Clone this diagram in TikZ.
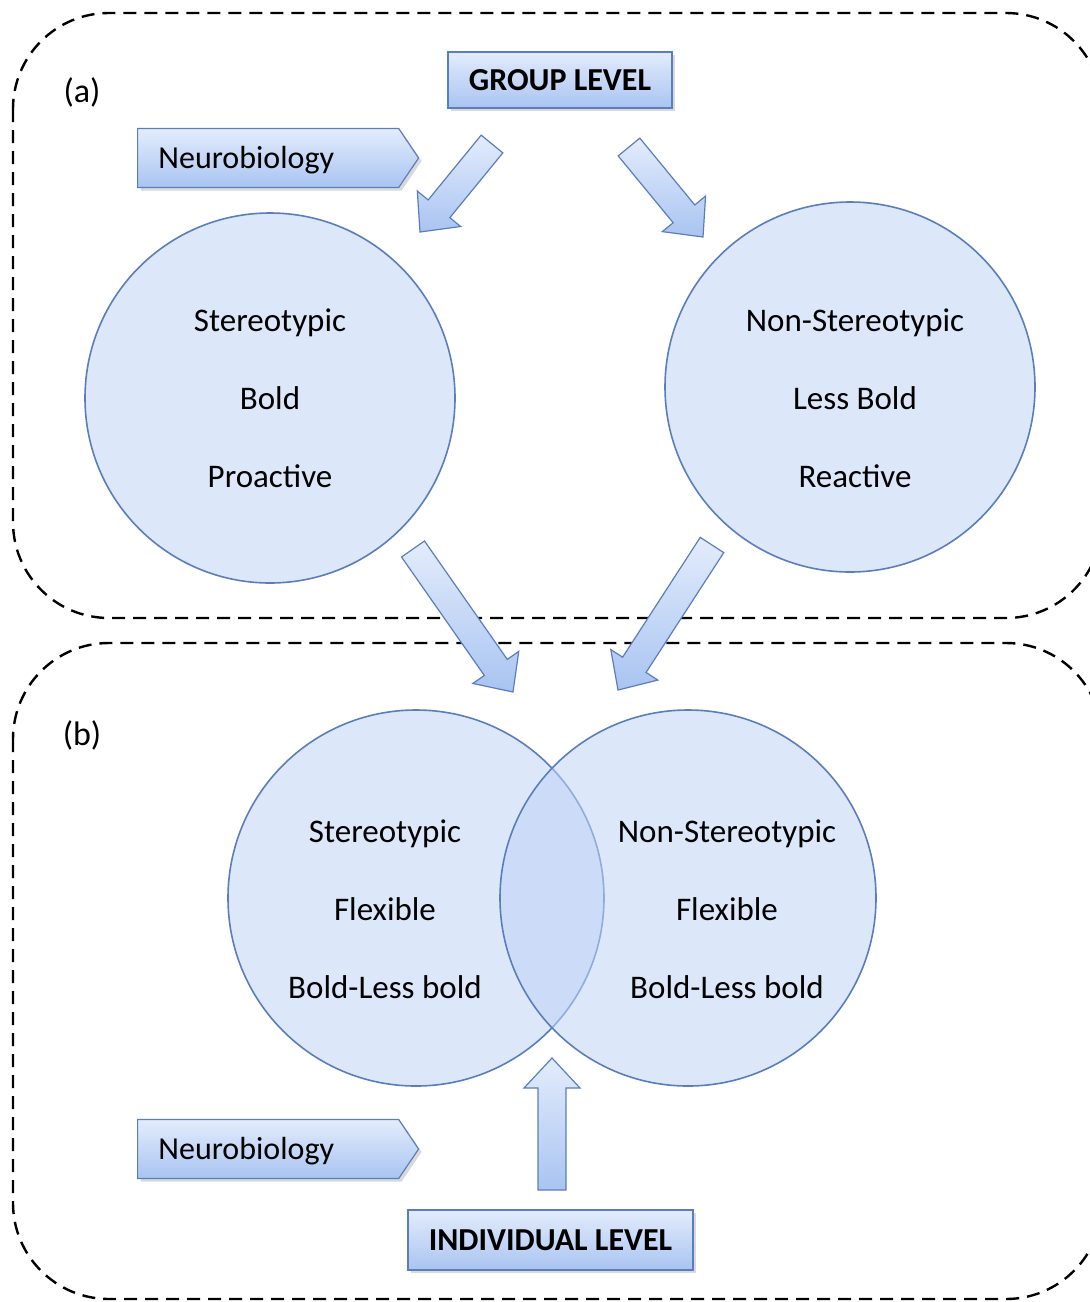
\documentclass[tikz,border=0pt]{standalone}
\usepackage{fontspec}
\setmainfont{Carlito}
\usetikzlibrary{calc,shapes.symbols,shadows}

\definecolor{paleblue}{HTML}{E3ECFC}
\definecolor{midblue}{HTML}{A9C4F1}
\definecolor{edgeblue}{HTML}{5A7EBD}
\definecolor{bubbleblue}{HTML}{BFD3F6}

\tikzset{
  zone/.style={draw=black, line width=1.2pt, dash pattern=on 6.5pt off 4pt, rounded corners=48pt},
  tag/.style={font=\fontsize{17}{20}\selectfont, inner sep=0pt},
  levelbox/.style={draw=edgeblue, line width=0.6pt, top color=paleblue, bottom color=midblue,
    drop shadow={opacity=0.3, shadow xshift=1.5pt, shadow yshift=-1.5pt},
    font=\fontsize{16}{19}\selectfont\bfseries, inner sep=0pt},
  neurobox/.style={shape=signal, signal to=east, signal pointer angle=112, anchor=west,
    minimum width=140.5pt, minimum height=29.5pt, inner sep=0pt,
    draw=edgeblue, line width=0.6pt, top color=paleblue, bottom color=midblue,
    drop shadow={opacity=0.3, shadow xshift=1.5pt, shadow yshift=-1.5pt}},
  neurotext/.style={anchor=west, inner sep=0pt, font=\fontsize{16}{19}\selectfont},
  bubble/.style={circle, draw=edgeblue, line width=0.8pt, fill=bubbleblue, fill opacity=0.55, inner sep=0pt},
  bubbletext/.style={align=center, inner sep=0pt, font=\fontsize{16.5}{39}\selectfont},
  blockarrow/.style={draw=edgeblue, line width=0.6pt, top color=paleblue, bottom color=midblue, line join=miter},
}

% block arrow from #1 to #2
\newcommand{\blockarrow}[2]{%
  \coordinate (ba-h) at ($(#2)!15pt!(#1)$);
  \path[blockarrow] ($(#1)!7pt!90:(#2)$) -- ($(ba-h)!7pt!90:(#2)$) -- ($(ba-h)!14pt!90:(#2)$)
    -- (#2) -- ($(ba-h)!14pt!-90:(#2)$) -- ($(ba-h)!7pt!-90:(#2)$) -- ($(#1)!7pt!-90:(#2)$) -- cycle;
}

\begin{document}
\begin{tikzpicture}[x=0.5pt,y=-0.5pt]
  \useasboundingbox (0,0) rectangle (1089,1302);

  % the two levels
  \draw[zone] (13,13) rectangle (1102,618);
  \draw[zone] (13,643) rectangle (1102,1299);
  \node[tag] (tag-a) at (82,92) {(a)};
  \node[tag] (tag-b) at (82,735) {(b)};

  % (a) group level
  \node[levelbox, minimum width=112pt, minimum height=28pt] (group) at (560,80) {GROUP LEVEL};
  \node[neurobox] (neuro-a) at (137,158) {};
  \node[neurotext] (neuro-a-t) at ([xshift=10.5pt,yshift=-1pt]neuro-a.west) {Neurobiology};

  \node[bubble, minimum size=185pt] (stereo-a) at (270,398) {};
  \node[bubble, minimum size=185pt] (nonstereo-a) at (850,387) {};
  \node[bubbletext] (stereo-a-t) at (270,398) {Stereotypic\\Bold\\Proactive};
  \node[bubbletext] (nonstereo-a-t) at (855,398) {Non-Stereotypic\\Less Bold\\Reactive};

  \coordinate (ga-s) at (492,144);
  \coordinate (ga-e) at (420,232);
  \coordinate (gb-s) at (629,147);
  \coordinate (gb-e) at (703,237);
  \blockarrow{ga-s}{ga-e}
  \blockarrow{gb-s}{gb-e}

  % (b) individual level
  \coordinate (da-s) at (413,549);
  \coordinate (da-e) at (513,692);
  \coordinate (db-s) at (712,545);
  \coordinate (db-e) at (618,690);
  \blockarrow{da-s}{da-e}
  \blockarrow{db-s}{db-e}

  \node[bubble, minimum size=188pt] (stereo-b) at (416,898) {};
  \node[bubble, minimum size=188pt] (nonstereo-b) at (688,898) {};
  \node[bubbletext] (stereo-b-t) at (385,909) {Stereotypic\\Flexible\\Bold-Less bold};
  \node[bubbletext] (nonstereo-b-t) at (727,909) {Non-Stereotypic\\Flexible\\Bold-Less bold};

  \node[neurobox] (neuro-b) at (137,1149) {};
  \node[neurotext] (neuro-b-t) at ([xshift=10.5pt,yshift=-1pt]neuro-b.west) {Neurobiology};

  \node[levelbox, minimum width=142.5pt, minimum height=30pt] (indiv) at (550.5,1240) {INDIVIDUAL LEVEL};
  \coordinate (up-s) at (552,1190);
  \coordinate (up-e) at (552,1058);
  \blockarrow{up-s}{up-e}
\end{tikzpicture}
\end{document}
